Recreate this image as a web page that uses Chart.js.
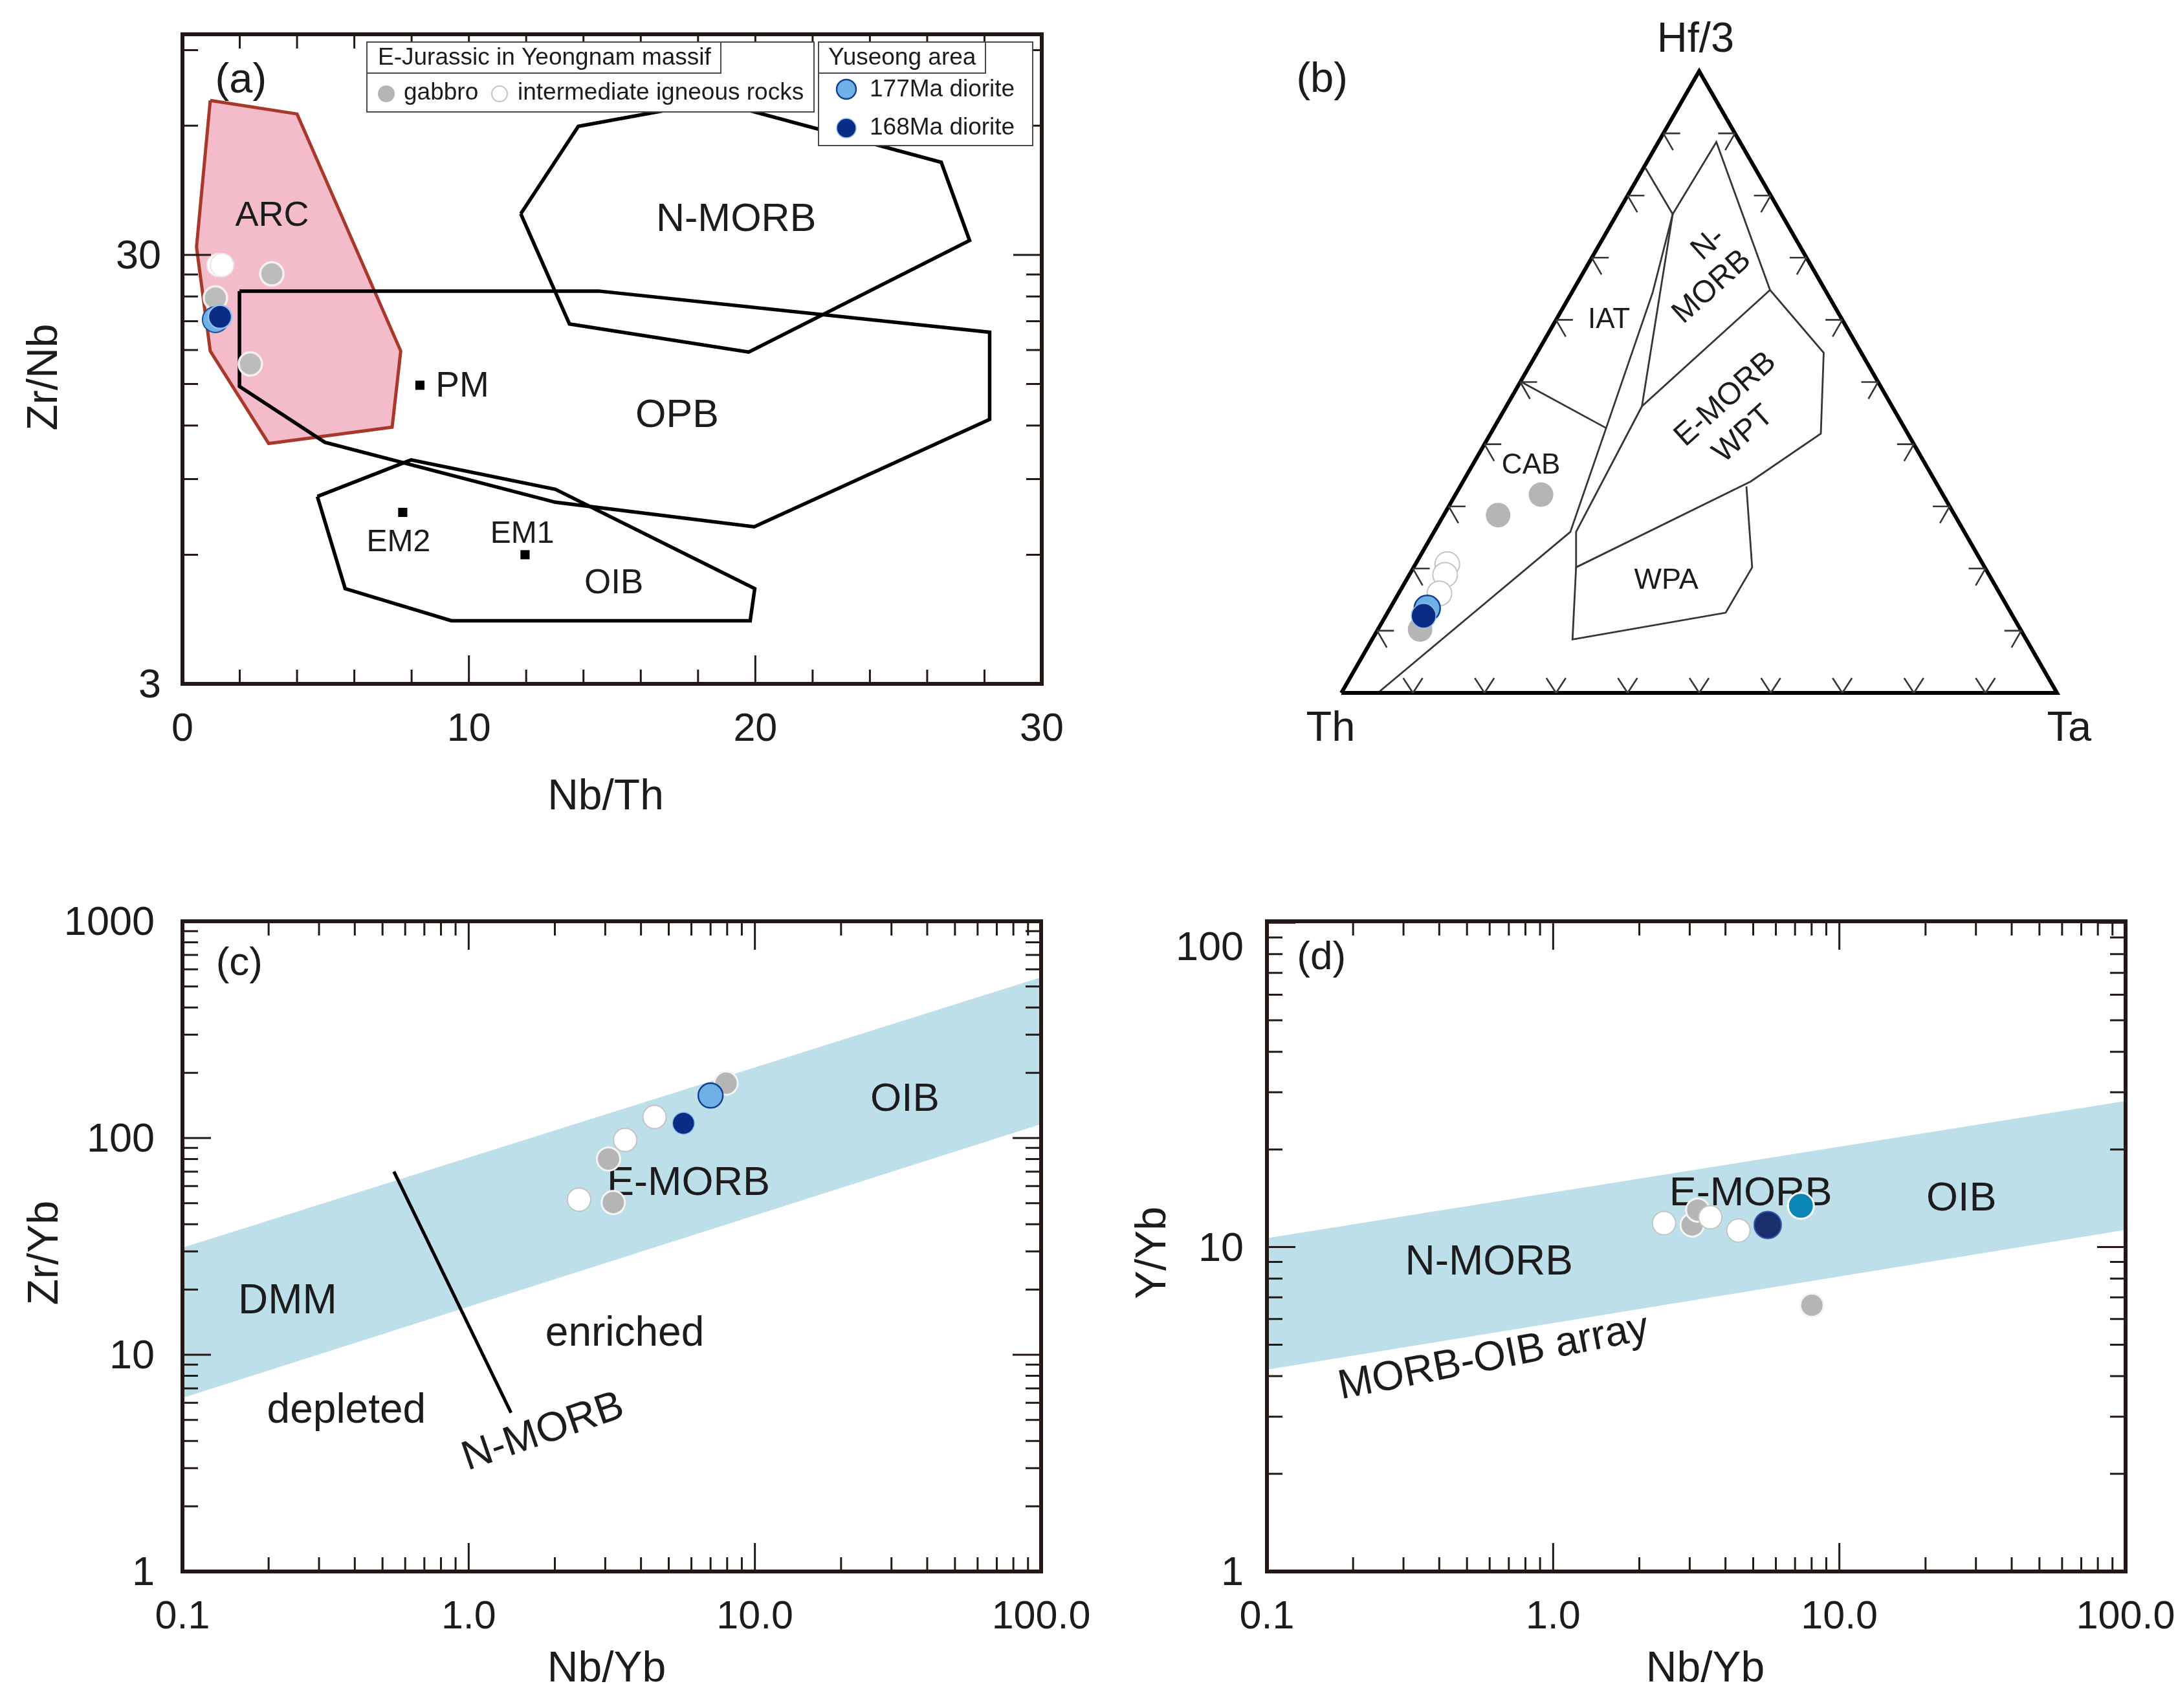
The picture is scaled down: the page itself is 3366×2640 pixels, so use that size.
<!DOCTYPE html>
<html><head><meta charset="utf-8">
<style>html,body{margin:0;padding:0;background:#fff}canvas{position:absolute;display:block}</style>
<script src="https://cdn.jsdelivr.net/npm/chart.js@4"></script>
</head><body>
<canvas id="pa" width="1683" height="1320" style="left:0;top:0;width:1683px;height:1320px"></canvas>
<canvas id="pb" width="1683" height="1320" style="left:1683px;top:0;width:1683px;height:1320px"></canvas>
<canvas id="pc" width="1683" height="1320" style="left:0;top:1320px;width:1683px;height:1320px"></canvas>
<canvas id="pd" width="1683" height="1320" style="left:1683px;top:1320px;width:1683px;height:1320px"></canvas>
<script>
/* ---------- panel (a) Nb/Th vs Zr/Nb ---------- */
const aArc   = [[0.97,68.7],[4.0,63.9],[7.62,17.9],[7.32,11.9],[3.01,10.9],[0.97,17.9],[0.49,31.3],[0.97,68.7]];
const aNMorb = [[11.81,37.4],[13.82,59.8],[18.6,68.4],[26.49,49.3],[27.48,32.4],[19.77,17.8],[13.51,20.7],[11.81,37.4]];
const aOpb   = [[1.99,24.7],[14.53,24.7],[28.18,19.8],[28.18,12.4],[19.96,6.97],[13.02,7.95],[4.97,10.97],[1.99,14.8],[1.99,24.7]];
const aOib   = [[4.71,8.2],[7.98,9.98],[13.02,8.52],[19.98,5.0],[19.82,4.21],[9.39,4.21],[5.68,5.0],[4.71,8.2]];
const aRefs  = [[8.29,14.9],[7.69,7.53],[11.96,6.0]];
const aGabbro= [[3.12,27.1],[2.37,16.7],[1.15,23.8]];
const aInter = [[1.26,28.4],[1.38,28.4]];
const a177   = [[1.15,21.2]];
const a168   = [[1.31,21.5]];
const aXTicks= [0,2,4,6,8,10,12,14,16,18,20,22,24,26,28,30];
const aYTicks= [3,6,9,12,15,18,21,24,27,30,60,90];
const aXMajor= [0,10,20,30];
const aYMajor= [3,30];

/* ---------- panel (b) Th - Hf/3 - Ta ternary (across, height in %) ---------- */
const bFrame = [[0,0],[50,100],[100,0],[0,0]];
const bLineA = [[42.5,84.4],[46.3,77.0],[52.4,88.6],[59.9,64.8],[67.4,54.7],[67.0,41.7],[57.2,34.0],[32.8,20.2],[32.8,25.9],[42.0,46.1],[59.9,64.8]];
const bLineB = [[46.3,77.0],[42.0,46.1]];
const bLineC = [[5.1,0],[32.0,25.9],[37.0,42.6],[43.5,64.4],[46.3,77.0]];
const bLineD = [[25.0,50.1],[37.0,42.6]];
const bLineE = [[56.6,33.2],[57.4,20.2],[53.7,12.9],[32.3,8.6],[32.8,20.2]];
const bGabbro= [[27.9,31.9],[21.9,28.6],[11.0,10.2]];
const bInter = [[14.8,20.7],[14.5,19.0],[13.7,16.0]];
const b177   = [[12.0,13.6]];
const b168   = [[11.5,12.4]];
const bTicks = [10,20,30,40,50,60,70,80,90];

/* ---------- panel (c) Nb/Yb vs Zr/Yb ---------- */
const cBand  = [[0.1,31.2],[100,552],[100,116],[0.1,6.32],[0.1,31.2]];
const cLine  = [[0.548,70],[1.406,5.4]];
const cGabbro= [[7.93,179],[3.08,80],[3.2,50.4]];
const cInter = [[4.46,125],[3.52,98],[2.43,52]];
const c177   = [[7.0,157]];
const c168   = [[5.63,117]];

/* ---------- panel (d) Nb/Yb vs Y/Yb ---------- */
const dBand  = [[0.1,10.66],[100,28.2],[100,11.3],[0.1,4.19],[0.1,10.66]];
const dGabbro= [[3.06,11.7],[3.2,13.0],[8.02,6.62]];
const dInter = [[2.44,11.85],[3.54,12.36],[4.44,11.25]];
const d177   = [[7.34,13.4]];
const d168   = [[5.62,11.7]];

const logXTicks = [0.1,0.2,0.3,0.4,0.5,0.6,0.7,0.8,0.9,1,2,3,4,5,6,7,8,9,10,20,30,40,50,60,70,80,90,100];
const logXMajor = [0.1,1,10,100];
const cYTicks = [1,2,3,4,5,6,7,8,9,10,20,30,40,50,60,70,80,90,100,200,300,400,500,600,700,800,900,1000];
const cYMajor = [1,10,100,1000];
const dYTicks = [1,2,3,4,5,6,7,8,9,10,20,30,40,50,60,70,80,90,100];
const dYMajor = [1,10,100];

/* text notes: text, x, y, font px, rotation deg (x, y in data units) */
const aNotes = [["(a)",2.04,77.5,65,0],["ARC",3.13,37.5,54,0],["N-MORB",19.33,36.7,61,0],["OPB",17.27,12.8,61,0],
  ["PM",9.77,15,55,0],["EM2",7.54,6.48,48,0],["EM1",11.86,6.79,48,0],["OIB",15.06,5.2,53,0]];
const bNotes = [["(b)",-2.7,99,65,0],["Hf/3",49.5,105.4,65,0],["Th",-1.5,-5.4,65,0],["Ta",101.7,-5.4,65,0],
  ["IAT",37.4,60.4,44,0],["CAB",26.5,37,44,0],["N-",51.3,72.6,48,-42],["MORB",51.8,65.7,48,-42],
  ["E-MORB",53.7,47.6,48,-42],["WPT",56.2,42,48,-42],["WPA",45.4,18.5,45,0]];
const cNotes = [["(c)",0.158,654,62,0],["DMM",0.233,18,64,0],["depleted",0.374,5.65,64,0],["enriched",3.51,12.8,64,0],
  ["N-MORB",1.82,4.5,64,-19],["OIB",33.4,154.6,62,0],["E-MORB",5.86,63.2,63,0]];
const dNotes = [["(d)",0.155,79.1,62,0],["E-MORB",4.9,14.87,63,0],["N-MORB",0.597,9.1,64,0],["OIB",26.7,14.3,63,0],
  ["MORB-OIB array",0.619,4.64,64,-11]];
const legendHead1 = "E-Jurassic in Yeongnam massif";
const legendHead2 = "Yuseong area";
const legendGabbro = "gabbro";
const legendInter = "intermediate igneous rocks";
const legend177 = "177Ma diorite";
const legend168 = "168Ma diorite";

const FONT = '"Liberation Sans", Arial, sans-serif';
const INK = '#231815', TEXT = '#1c1c1c';
Chart.defaults.font.family = FONT;
Chart.defaults.color = TEXT;

const pts = a => a.map(([x,y]) => ({x,y}));
const line = (d,color,w,extra={}) => ({data:pts(d),showLine:true,pointRadius:0,borderColor:color,borderWidth:w,
  tension:0,fill:false,clip:false,borderJoinStyle:'miter',...extra});
const area = (d,fill,extra={}) => line(d,fill,0,{backgroundColor:fill,fill:'shape',clip:undefined,...extra});
const dots = (d,fill,edge,r,bw,extra={}) => ({data:pts(d),showLine:false,pointRadius:r,pointBackgroundColor:fill,
  pointBorderColor:edge,pointBorderWidth:bw,clip:false,...extra});

function noteWriter(notes){
  return chart => {
    const {ctx,scales:{x,y}} = chart;
    ctx.save();
    ctx.fillStyle = TEXT; ctx.textAlign='center'; ctx.textBaseline='middle';
    for (const [t,vx,vy,size,rot] of notes){
      ctx.save();
      ctx.translate(x.getPixelForValue(vx), y.getPixelForValue(vy)+4);
      ctx.rotate(rot*Math.PI/180);
      ctx.font = `${size}px ${FONT}`;
      ctx.fillText(t,0,0);
      ctx.restore();
    }
    ctx.restore();
  };
}
const notesPlugin = notes => {
  const write = noteWriter(notes);
  return {id:'notes',beforeDatasetDraw(chart,{index}){ if(chart.data.datasets[index].notesBefore) write(chart); }};
};
function framePlugin(xMajor,yMajor){
  return {id:'frame',afterDatasetsDraw(chart){
    const {ctx,chartArea:A,scales:{x,y}} = chart;
    ctx.save();
    ctx.strokeStyle = INK; ctx.lineWidth = 3; ctx.beginPath();
    for (const t of x.ticks){
      const p = x.getPixelForValue(t.value), len = xMajor.includes(t.value)?44:22;
      ctx.moveTo(p,A.bottom); ctx.lineTo(p,A.bottom-len);
      ctx.moveTo(p,A.top); ctx.lineTo(p,A.top+len);
    }
    for (const t of y.ticks){
      const p = y.getPixelForValue(t.value), len = yMajor.includes(t.value)?44:24;
      ctx.moveTo(A.left,p); ctx.lineTo(A.left+len,p);
      ctx.moveTo(A.right,p); ctx.lineTo(A.right-len,p);
    }
    ctx.stroke();
    ctx.lineWidth = 6; ctx.strokeRect(A.left,A.top,A.right-A.left,A.bottom-A.top);
    ctx.restore();
  }};
}
function ternaryTicks(){
  return {id:'ternTicks',afterDatasetsDraw(chart){
    const {ctx,scales:{x,y}} = chart;
    const seg = (px,py,dx,dy)=>{ctx.moveTo(px,py);ctx.lineTo(px+dx,py+dy);};
    ctx.save(); ctx.strokeStyle='#3a3532'; ctx.lineWidth=2.6; ctx.beginPath();
    for (const t of bTicks){
      let px=x.getPixelForValue(t/2), py=y.getPixelForValue(t);
      seg(px,py,26,0); seg(px,py,15,26);
      px=x.getPixelForValue(100-t/2);
      seg(px,py,-26,0); seg(px,py,-15,26);
      px=x.getPixelForValue(t); py=y.getPixelForValue(0);
      seg(px,py,-15,-23); seg(px,py,15,-23);
    }
    ctx.stroke(); ctx.restore();
  }};
}
const legendPlugin = {id:'boxLegend',afterDatasetsDraw(chart){
  const {ctx} = chart;
  const box=(x0,y0,x1,y1,fill)=>{ if(fill){ctx.fillStyle='#fff';ctx.fillRect(x0,y0,x1-x0,y1-y0);} ctx.strokeRect(x0,y0,x1-x0,y1-y0); };
  const dot=(x,y,r,f,e,w)=>{ctx.beginPath();ctx.arc(x,y,r,0,7);ctx.fillStyle=f;ctx.fill();if(w){ctx.lineWidth=w;ctx.strokeStyle=e;ctx.stroke();ctx.lineWidth=2;ctx.strokeStyle='#4a4a4a';}};
  const text=(t,x,y)=>{ctx.fillStyle=TEXT;ctx.fillText(t,x,y);};
  ctx.save();
  ctx.lineWidth=2; ctx.strokeStyle='#4a4a4a';
  ctx.font=`37px ${FONT}`; ctx.textAlign='left'; ctx.textBaseline='middle';
  box(567,65,1258,173,true); box(567,65,1114,113,false);
  box(1265,65,1596,225,true); box(1265,65,1523,113,false);
  text(legendHead1,584,90); text(legendHead2,1280,90);
  dot(597,145,13,'#b5b5b6'); text(legendGabbro,624,144);
  dot(772,145,12,'#fff','#c4c4c4',2); text(legendInter,800,144);
  dot(1308,138,15,'#6fb1e6','#12408f',2.5); text(legend177,1344,139);
  dot(1308,198,15,'#0b2c85','#8fc1ec',1.5); text(legend168,1344,198);
  ctx.restore();
}};

function axis(cfg){
  const labelSet = cfg.labels;
  return {
    type:cfg.type, min:cfg.min, max:cfg.max, position:cfg.position,
    grid:{display:false,drawTicks:false}, border:{display:false},
    title:{display:true,text:cfg.title,font:{size:66,family:FONT},color:TEXT,padding:cfg.titlePad},
    ticks:{autoSkip:false,maxRotation:0,minRotation:0,padding:cfg.tickPad,color:TEXT,
      labelOffset:cfg.position==='left'?4:0,
      font:{size:cfg.position==='left'?63:61,family:FONT,lineHeight:1.15},
      callback:v=>{ const l=labelSet.get(Number(v)); return l===undefined?'':l; }},
    afterBuildTicks(s){ s.ticks = cfg.ticks.map(value=>({value})); },
    afterFit(s){ if(cfg.position==='left') s.width=cfg.size; else s.height=cfg.size;
      s.paddingLeft=s.paddingRight=s.paddingTop=s.paddingBottom=0;
      const base=Object.getPrototypeOf(s).drawTitle, [dx,dy]=cfg.shift;
      s.drawTitle=function(){ const c=this.ctx; c.save(); c.translate(dx,dy); base.call(this); c.restore(); }; }
  };
}
const logXLabels = new Map([[0.1,'0.1'],[1,'1.0'],[10,'10.0'],[100,'100.0']]);

function make(id,datasets,scales,padding,plugins){
  return new Chart(document.getElementById(id),{type:'scatter',
    data:{datasets:datasets.slice().reverse()},
    options:{responsive:false,animation:false,devicePixelRatio:1,events:[],layout:{padding},scales,
      plugins:{legend:{display:false},tooltip:{enabled:false},title:{display:false}}},
    plugins});
}

/* (a) */
make('pa',[
  area(aArc,'#f4bbcb'),
  line(aArc,'#a8392a',5),
  line(aNMorb,'#000',5.5), line(aOpb,'#000',5.5), line(aOib,'#000',5.5),
  dots(aRefs,'#000','#000',10,0,{pointStyle:'rect',notesBefore:true}),
  dots(aGabbro,'#bcbcbc','#f4f0f0',18,3.5),
  dots(aInter,'#fff','#e8e8e8',18,2),
  dots(a177,'#6fb1e6','#1d4f9c',20,2),
  dots(a168,'#0b2c85','#8fc1ec',18,2.5)
],{
  x:axis({type:'linear',min:0,max:30,position:'bottom',title:'Nb/Th',ticks:aXTicks,size:263,tickPad:36,
    labels:new Map([[0,'0'],[10,'10'],[20,'20'],[30,'30']]),titlePad:{top:0,bottom:48},shift:[-10,0]}),
  y:axis({type:'logarithmic',min:3,max:98,position:'left',title:'Zr/Nb',ticks:aYTicks,size:282,tickPad:33,
    labels:new Map([[3,'3'],[30,'30']]),titlePad:{top:30,bottom:0},shift:[0,28]})
},{top:53,right:73,left:0,bottom:0},[notesPlugin(aNotes),framePlugin(aXMajor,aYMajor),legendPlugin]);

/* (b) */
const thin = d => line(d,'#3a3532',2.8);
make('pb',[
  thin(bLineA),thin(bLineB),thin(bLineC),thin(bLineD),thin(bLineE),
  line(bFrame,'#000',6),
  dots(bGabbro,'#b5b5b6','#ffffff',19,0,{notesBefore:true}),
  dots(bInter,'#fff','#c4c4c4',19,2),
  dots(b177,'#6fb1e6','#12408f',20,2.5),
  dots(b168,'#0b2c85','#8fc1ec',19,1.5)
],{
  x:{type:'linear',min:0,max:100,display:false},
  y:{type:'linear',min:0,max:100,display:false}
},{left:390,right:187,top:110,bottom:249},[notesPlugin(bNotes),ternaryTicks()]);

/* (c) */
make('pc',[
  area(cBand,'#bcdfe9'),
  line(cLine,'#000',5,{notesBefore:false}),
  dots(cGabbro,'#b5b5b6','#f4f4f4',18,3,{notesBefore:true}),
  dots(cInter,'#fff','#c4c4c4',18,2),
  dots(c177,'#6fb1e6','#12408f',19,2.5),
  dots(c168,'#0b2c85','#8fc1ec',17,1.5)
],{
  x:axis({type:'logarithmic',min:0.1,max:100,position:'bottom',title:'Nb/Yb',ticks:logXTicks,size:211,tickPad:36,
    labels:logXLabels,titlePad:{top:0,bottom:20},shift:[-8,0]}),
  y:axis({type:'logarithmic',min:1,max:1000,position:'left',title:'Zr/Yb',ticks:cYTicks,size:282,tickPad:43,
    labels:new Map([[1,'1'],[10,'10'],[100,'100'],[1000,'1000']]),titlePad:{top:31,bottom:0},shift:[0,10]})
},{top:104,right:74,left:0,bottom:0},[notesPlugin(cNotes),framePlugin(logXMajor,cYMajor)]);

/* (d) */
make('pd',[
  area(dBand,'#bcdfe9'),
  dots(dGabbro,'#b5b5b6','#f4f4f4',18,3,{notesBefore:true}),
  dots(dInter,'#fff','#c4c4c4',18,2),
  dots(d168,'#1b2e6e','#3a5bb0',21,2),
  dots(d177,'#0b86b7','#ffffff',20,3)
],{
  x:axis({type:'logarithmic',min:0.1,max:100,position:'bottom',title:'Nb/Yb',ticks:logXTicks,size:211,tickPad:36,
    labels:logXLabels,titlePad:{top:0,bottom:20},shift:[14,0]}),
  y:axis({type:'logarithmic',min:1,max:101,position:'left',title:'Y/Yb',ticks:dYTicks,size:275,tickPad:36,
    labels:new Map([[1,'1'],[10,'10'],[100,['','100']]]),titlePad:{top:60,bottom:0},shift:[0,10]})
},{top:104,right:81,left:0,bottom:0},[notesPlugin(dNotes),framePlugin(logXMajor,dYMajor)]);
</script>
</body></html>
